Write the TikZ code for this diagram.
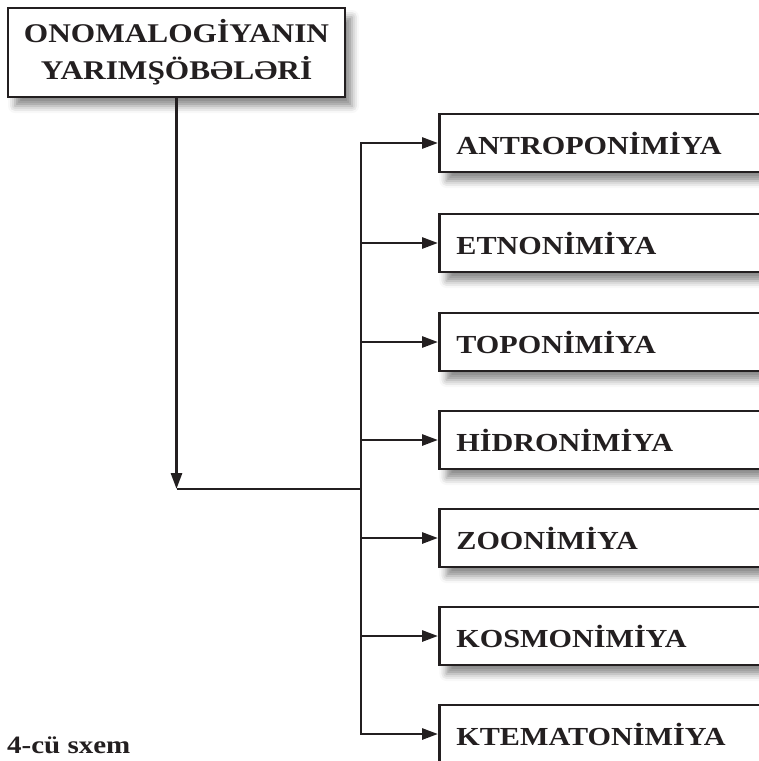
\documentclass[tikz,border=0pt]{standalone}
\usepackage{fontspec}
\setmainfont{Liberation Serif}[FakeStretch=1.16]
\usetikzlibrary{arrows.meta,shadows.blur}
\definecolor{ink}{RGB}{35,31,32}
\tikzset{
  sh/.style={blur shadow={shadow xshift=7pt,shadow yshift=-9pt,shadow blur radius=7pt,shadow opacity=45}},
  titlebox/.style={draw=ink,line width=2.8pt,fill=white,sh,minimum width=337pt,minimum height=89pt,
    align=center,font=\bfseries\fontsize{27}{37}\selectfont,text=ink,inner sep=0pt},
  itembox/.style={draw=ink,line width=2.8pt,fill=white,sh,anchor=west,minimum width=340pt,minimum height=58pt,
    inner xsep=17pt,text width=306pt,align=left,text height=22pt,text depth=0pt,
    font=\bfseries\fontsize{26}{30}\selectfont,text=ink},
  conn/.style={draw=ink,line width=2.8pt},
  arr/.style={conn,-{Triangle[length=16pt,width=11pt]}},
  captext/.style={font=\bfseries\fontsize{25}{30}\selectfont,text=ink,anchor=base west,inner sep=0pt}
}
\begin{document}
\begin{tikzpicture}[x=1pt,y=-1pt]
\useasboundingbox (0,0) rectangle (759,761);
\node[titlebox] (t) at (176.5,52.5) {ONOMALOGİYANIN\\YARIMŞÖBƏLƏRİ};
\node[itembox] (b1) at (438,143) {ANTROPONİMİYA};
\node[itembox] (b2) at (438,243) {ETNONİMİYA};
\node[itembox] (b3) at (438,342) {TOPONİMİYA};
\node[itembox] (b4) at (438,440) {HİDRONİMİYA};
\node[itembox] (b5) at (438,538) {ZOONİMİYA};
\node[itembox] (b6) at (438,636) {KOSMONİMİYA};
\node[itembox] (b7) at (438,734) {KTEMATONİMİYA};
\coordinate (j) at (176.5,489);
\coordinate (tr) at (361,489);
\node[captext] (c) at (7,753) {4-cü sxem};
\draw[arr] (t.south) -- (j);
\draw[conn] (j) -- (tr);
\draw[conn,line cap=rect] (tr |- b1.west) -- (tr |- b7.west);
\foreach \i in {1,...,7}{\draw[arr] (tr |- b\i.west) -- (b\i.west);}
\end{tikzpicture}
\end{document}
